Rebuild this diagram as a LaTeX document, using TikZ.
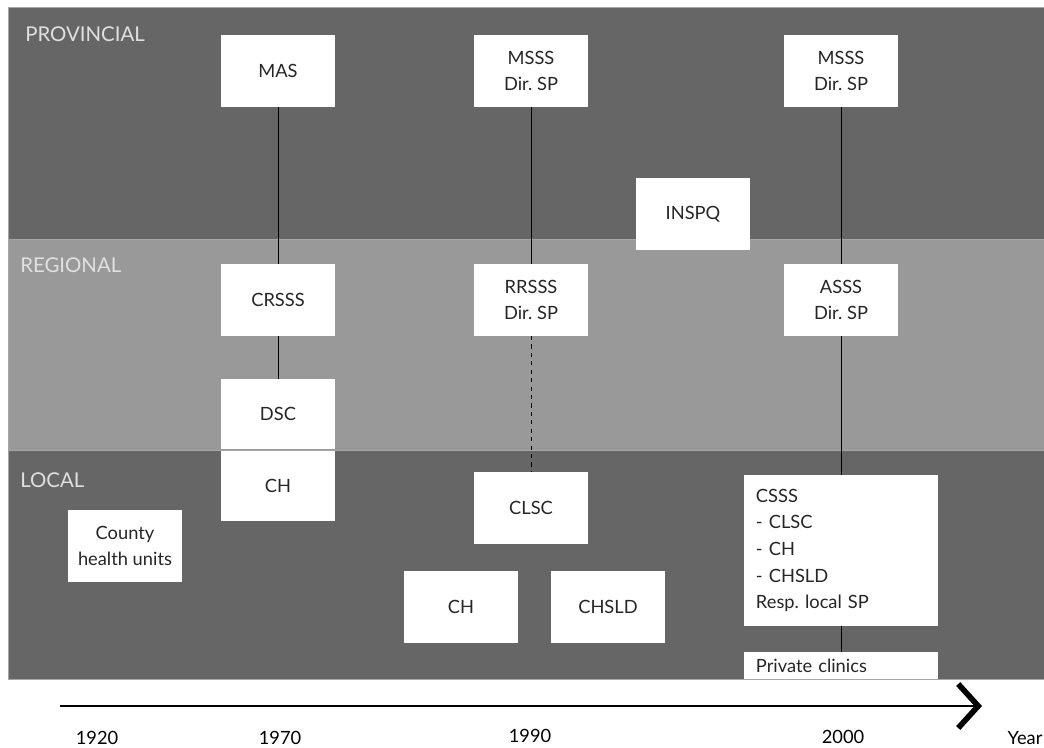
\documentclass[tikz,border=0pt]{standalone}
\usepackage{fontspec}
\setmainfont{Lato}
\usepackage{tikz}
\usetikzlibrary{positioning, arrows.meta}
\definecolor{banddark}{HTML}{666666}
\definecolor{bandlight}{HTML}{999999}
\definecolor{boxtext}{HTML}{262626}
\frenchspacing

\begin{document}
\begin{tikzpicture}[
  x=0.025cm, y=-0.025cm,
  every node/.style={font=\fontsize{13}{19}\selectfont, align=center},
  band/.style={draw=black!35, line width=0.5pt},
  orgbox/.style={rectangle, fill=white, text=boxtext, inner sep=2pt, minimum width=2.85cm, minimum height=1.78cm},
  orgwide/.style={orgbox, align=left, inner xsep=0.3cm, text width=4.25cm},
  levellabel/.style={anchor=base west, inner sep=0pt, text=white!88!black, font=\fontsize{14.5}{17}\selectfont},
  yearlabel/.style={anchor=base, inner sep=0pt, text=black},
  link/.style={draw=black, line width=0.6pt},
  timeaxis/.style={draw=black, line width=1.8pt, -{Straight Barb[length=5mm, width=11mm, line width=4pt]}}
]
\useasboundingbox (0,0) rectangle (1044,748);

\path[band, fill=banddark] (8,7) rectangle (1044,239);
\path[band, fill=bandlight] (8,239) rectangle (1044,450);
\path[band, fill=banddark] (8,450) rectangle (1044,679);

\node[levellabel] (provincial) at (25,42) {PROVINCIAL};
\node[levellabel] (regional) at (20,272) {REGIONAL};
\node[levellabel] (local) at (20,487) {LOCAL};

\node[orgbox] (mas) at (278,71) {MAS};
\node[orgbox] (msss90) at (531,71) {MSSS\\Dir. SP};
\node[orgbox] (msss00) at (841,71) {MSSS\\Dir. SP};
\node[orgbox] (inspq) at (693,214) {INSPQ};

\node[orgbox] (crsss) at (278,300) {CRSSS};
\node[orgbox] (rrsss) at (531,300) {RRSSS\\Dir. SP};
\node[orgbox] (asss) at (841,300) {ASSS\\Dir. SP};
\node[orgbox, minimum height=1.75cm] (dsc) at (278,414) {DSC};

\node[orgbox, minimum height=1.75cm] (ch70) at (278,486) {CH};
\node[orgbox] (county) at (125,546) {County\\health units};
\node[orgbox] (clsc) at (531,508) {CLSC};
\node[orgbox] (ch90) at (461,607) {CH};
\node[orgbox] (chsld) at (608,607) {CHSLD};
\node[orgwide, minimum height=3.78cm] (csss) at (841,550.5) {CSSS\\- CLSC\\- CH\\- CHSLD\\Resp. local SP};
\node[orgwide, minimum height=0.675cm, inner ysep=0pt] (clinics) at (841,665.5) {Private clinics};

\draw[link] (mas) -- (crsss);
\draw[link] (crsss) -- (dsc);
\draw[link] (msss90) -- (rrsss);
\draw[link, dashed] (rrsss) -- (clsc);
\draw[link] (msss00) -- (asss);
\draw[link] (asss) -- (csss);
\draw[link] (csss) -- (clinics);

\coordinate (axisstart) at (60,706);
\coordinate (axisend) at (982,706);
\draw[timeaxis] (axisstart) -- (axisend);

\node[yearlabel] (y1920) at (97,744) {1920};
\node[yearlabel] (y1970) at (280,744) {1970};
\node[yearlabel] (y1990) at (530,742) {1990};
\node[yearlabel] (y2000) at (843,743) {2000};
\node[yearlabel] (year) at (1025,744) {Year};
\end{tikzpicture}
\end{document}
